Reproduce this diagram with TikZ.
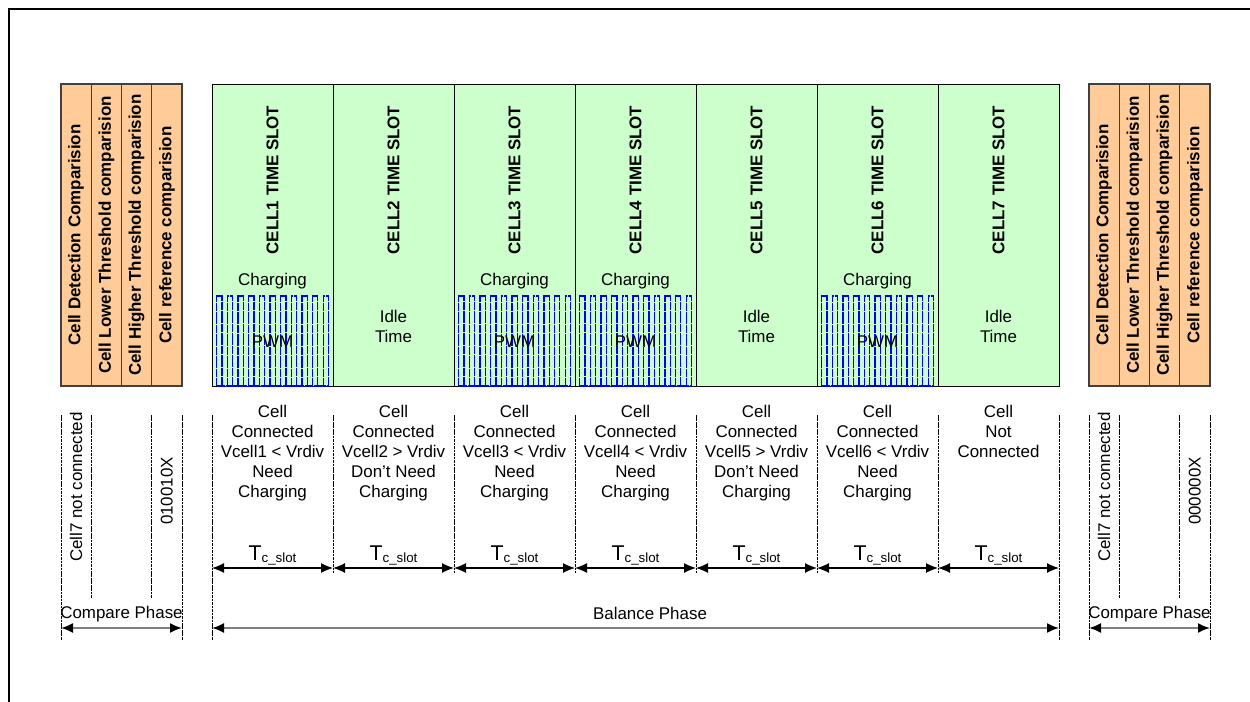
\documentclass[tikz,border=0pt]{standalone}
\usepackage{fontspec}
\setmainfont{Liberation Sans}
\usepackage{tikz}
\usetikzlibrary{arrows.meta,calc}

\definecolor{slotgreen}{HTML}{CCFFCC}
\definecolor{cmporange}{HTML}{FFCC99}
\definecolor{pwmblue}{HTML}{0000FF}

\begin{document}
\begin{tikzpicture}[x=0.75pt,y=0.75pt,yscale=-1,xscale=1,
    every node/.style={inner sep=0pt,align=center,font=\fontsize{12.7}{15}\selectfont},
    slotbox/.style={draw=black,fill=slotgreen,line width=0.6pt},
    cmpbox/.style={draw=black!75,fill=cmporange,line width=0.8pt},
    title/.style={rotate=90,font=\fontsize{12.7}{15}\selectfont\bfseries},
    sidetext/.style={rotate=90},
    guide/.style={dash pattern=on 2pt off 0.6pt,line width=0.6pt},
    pwm/.style={draw=pwmblue,line width=0.9pt,dash pattern=on 3pt off 0.3pt},
    slotarrow/.style={{Latex[length=9pt,width=7.5pt]}-{Latex[length=9pt,width=7.5pt]},line width=0.9pt},
    phasearrow/.style={{Latex[length=9pt,width=7.5pt,black]}-{Latex[length=9pt,width=7.5pt,black]},draw=black!50,line width=1.4pt}]
        \useasboundingbox (0,0) rectangle (1250,702);
        %Frame
        \draw[line width=1.5pt] (9,702) -- (9,9) -- (1250,9) ;

        %Shape: Compare blocks (left and right)
        \foreach \xl/\s in {61/L,1089/R}{
            \draw[cmpbox] (\xl,84) rectangle ++(121,302) ;
            \foreach \k in {1,2,3}
                \draw[cmpbox] (\xl+30.25*\k,84) -- (\xl+30.25*\k,386) ;
            \node[title] (det\s) at (\xl+15.1,235) {Cell Detection Comparision};
            \node[title] (low\s) at (\xl+45.4,235) {Cell Lower Threshold comparision};
            \node[title] (high\s) at (\xl+75.6,235) {Cell Higher Threshold comparision};
            \node[title] (ref\s) at (\xl+105.9,235) {Cell reference comparision};
            \node[sidetext] (nc\s) at (\xl+15.1,487) {Cell7 not connected};
            % dotted guides
            \draw[guide] (\xl,415) -- (\xl,640) ;
            \draw[guide] (\xl+30.25,415) -- (\xl+30.25,598) ;
            \draw[guide] (\xl+90.75,415) -- (\xl+90.75,598) ;
            \draw[guide] (\xl+121,415) -- (\xl+121,640) ;
            \coordinate (cp\s a) at (\xl,628) ;
            \coordinate (cp\s b) at (\xl+121,628) ;
            \draw[phasearrow] (cp\s a) -- (cp\s b) ;
            \node (cpt\s) at (\xl+60.5,614) {Compare Phase};
        }
        \node[sidetext] (codeL) at (166.9,491) {010010X};
        \node[sidetext] (codeR) at (1194.9,491) {000000X};

        %Shape: Cell time slots
        \foreach \i in {1,...,7}{
            \pgfmathsetmacro\xl{212+121*(\i-1)}
            \draw[slotbox] (\xl,84) rectangle ++(121,302) ;
            \node[title] (t\i) at (\xl+60.5,180) {CELL\i\ TIME SLOT};
            \node[anchor=base] (tc\i) at (\xl+60.5,560.7) {\fontsize{16}{16}\selectfont T\raisebox{-1.5pt}{\fontsize{10}{10}\selectfont c\_slot}};
        }
        %PWM slots
        \foreach \i in {1,3,4,6}{
            \pgfmathsetmacro\xl{212+121*(\i-1)}
            \foreach \k in {0,...,10}
                \draw[pwm] (\xl+4.7+10.65*\k,386) -- ++(0,-90) -- ++(5.3,0) -- ++(0,90) ;
            \draw[pwm] (\xl+4.7,386) -- (\xl+116.5,386) ;
            \node (ch\i) at (\xl+60.5,281) {Charging};
            \node (pw\i) at (\xl+60.5,342) {PWM};
        }
        %Idle slots
        \foreach \i in {2,5,7}{
            \pgfmathsetmacro\xl{212+121*(\i-1)}
            \node (id\i) at (\xl+60.5,326) {Idle\\Time};
        }

        % Text Node
        \node[anchor=north] (d1) at (272.5,405) {Cell\\Connected\\Vcell1 < Vrdiv\\Need\\Charging};
        \node[anchor=north] (d2) at (393.5,405) {Cell\\Connected\\Vcell2 > Vrdiv\\Don’t Need\\Charging};
        \node[anchor=north] (d3) at (514.5,405) {Cell\\Connected\\Vcell3 < Vrdiv\\Need\\Charging};
        \node[anchor=north] (d4) at (635.5,405) {Cell\\Connected\\Vcell4 < Vrdiv\\Need\\Charging};
        \node[anchor=north] (d5) at (756.5,405) {Cell\\Connected\\Vcell5 > Vrdiv\\Don’t Need\\Charging};
        \node[anchor=north] (d6) at (877.5,405) {Cell\\Connected\\Vcell6 < Vrdiv\\Need\\Charging};
        \node[anchor=north] (d7) at (998.5,405) {Cell\\Not\\Connected};

        %Slot boundaries and T_c_slot arrows
        \foreach \k in {0,...,7}
            \coordinate (b\k) at (212+121*\k,568) ;
        \draw[guide] (212,415) -- (212,640) ;
        \draw[guide] (1059,415) -- (1059,640) ;
        \foreach \k in {1,...,6}
            \draw[guide] (212+121*\k,415) -- (212+121*\k,573) ;
        \foreach \k [evaluate=\k as \n using int(\k+1)] in {0,...,6}
            \draw[slotarrow] (b\k) -- (b\n) ;

        %Balance phase
        \coordinate (bpa) at (212,628) ;
        \coordinate (bpb) at (1059,628) ;
        \draw[phasearrow] (bpa) -- (bpb) ;
        \node (bpt) at (650,613) {Balance Phase};
\end{tikzpicture}
\end{document}
